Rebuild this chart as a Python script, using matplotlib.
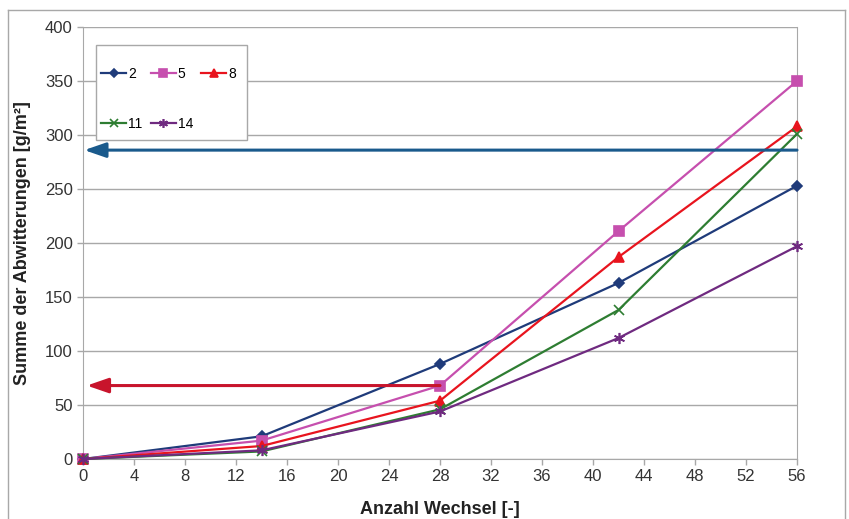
import matplotlib.pyplot as plt
from matplotlib.lines import Line2D
from matplotlib.patches import Rectangle

plt.rcParams['font.family'] = ['Liberation Sans', 'DejaVu Sans']

# Anzahl Wechsel
wechsel = [0, 14, 28, 42, 56]

# Summe der Abwitterungen per series
labels = ["2", "5", "8", "11", "14"]
s2 = [0, 21, 88, 163, 253]
s5 = [0, 17, 68, 211, 350]
s8 = [0, 12, 54, 187, 308]
s11 = [0, 7, 46, 138, 301]
s14 = [0, 8, 44, 112, 197]

# horizontal arrows (start x, end x, level)
blue_arrow = (56, 0, 286)
red_arrow = (28, 0, 68)

colors = ["#1f3b7a", "#c64fae", "#e8141e", "#2e7d32", "#6f2a80"]
markers = ["D", "s", "^", "x", (6, 2, 0)]
msizes = [5, 7, 7, 7, 8]

fig = plt.figure(figsize=(8.49, 5.19), dpi=100)
ax = fig.add_axes([83/849, 1-459/519, (797-83)/849, (459-27)/519])

series = [s2, s5, s8, s11, s14]
for ys, lab, c, m, ms in zip(series, labels, colors, markers, msizes):
    ax.plot(wechsel, ys, color=c, marker=m, markersize=ms, lw=1.6,
            label=lab, clip_on=False, zorder=3, markeredgewidth=1.2)

# arrows
ax.annotate("", xy=(blue_arrow[1] + 0.1, blue_arrow[2]), xytext=(blue_arrow[0], blue_arrow[2]),
            arrowprops=dict(arrowstyle="-|>,head_length=1.3,head_width=0.45", color="#1a5a8c",
                            lw=2.2, shrinkA=0, shrinkB=0), zorder=4, annotation_clip=False)
ax.annotate("", xy=(red_arrow[1] + 0.3, red_arrow[2]), xytext=(red_arrow[0], red_arrow[2]),
            arrowprops=dict(arrowstyle="-|>,head_length=1.3,head_width=0.45", color="#c8142c",
                            lw=2.2, shrinkA=0, shrinkB=0), zorder=4, annotation_clip=False)

ax.set_xlim(0, 56)
ax.set_ylim(0, 400)
ax.set_xticks(range(0, 57, 4))
ax.set_yticks(range(0, 401, 50))
ax.yaxis.grid(True, color="#a8a8a8", lw=1)
ax.set_axisbelow(True)
for side in ["left", "bottom", "right", "top"]:
    ax.spines[side].set_color("#a8a8a8")
ax.spines["top"].set_visible(False)
ax.tick_params(colors="#a8a8a8", labelcolor="#333333", labelsize=12, length=4, width=1)

ax.set_xlabel("Anzahl Wechsel [-]", fontsize=13, fontweight="bold", labelpad=12, color="#222222")
ax.set_ylabel("Summe der Abwitterungen [g/m²]", fontsize=13, fontweight="bold", labelpad=10, color="#222222")

# legend box (drawn by hand, Excel-style uneven padding)
ax.add_patch(Rectangle((13/714, 1-113/432), 151/714, 95/432, transform=ax.transAxes,
                       facecolor="white", edgecolor="#a8a8a8", lw=1, zorder=2.5))

# legend: rows 2,5,8 / 11,14
h, l = ax.get_legend_handles_labels()
order = [0, 3, 1, 4, 2]
leg = ax.legend([h[i] for i in order], [l[i] for i in order], ncol=3,
                loc="upper left", bbox_to_anchor=(18/714, 1-40/432), borderaxespad=0,
                fontsize=10, frameon=False, labelspacing=2.6, borderpad=0,
                handlelength=1.8, handletextpad=0.15, columnspacing=0.6, markerscale=0.8)

# outer frame of the figure
for x0, y0, x1, y1 in [(8, 10, 845, 10), (8, 10, 8, 519), (845, 10, 845, 519)]:
    fig.add_artist(Line2D([x0/849, x1/849], [1-y0/519, 1-y1/519], color="#a8a8a8", lw=1))

fig.savefig("out.png", dpi=100)
